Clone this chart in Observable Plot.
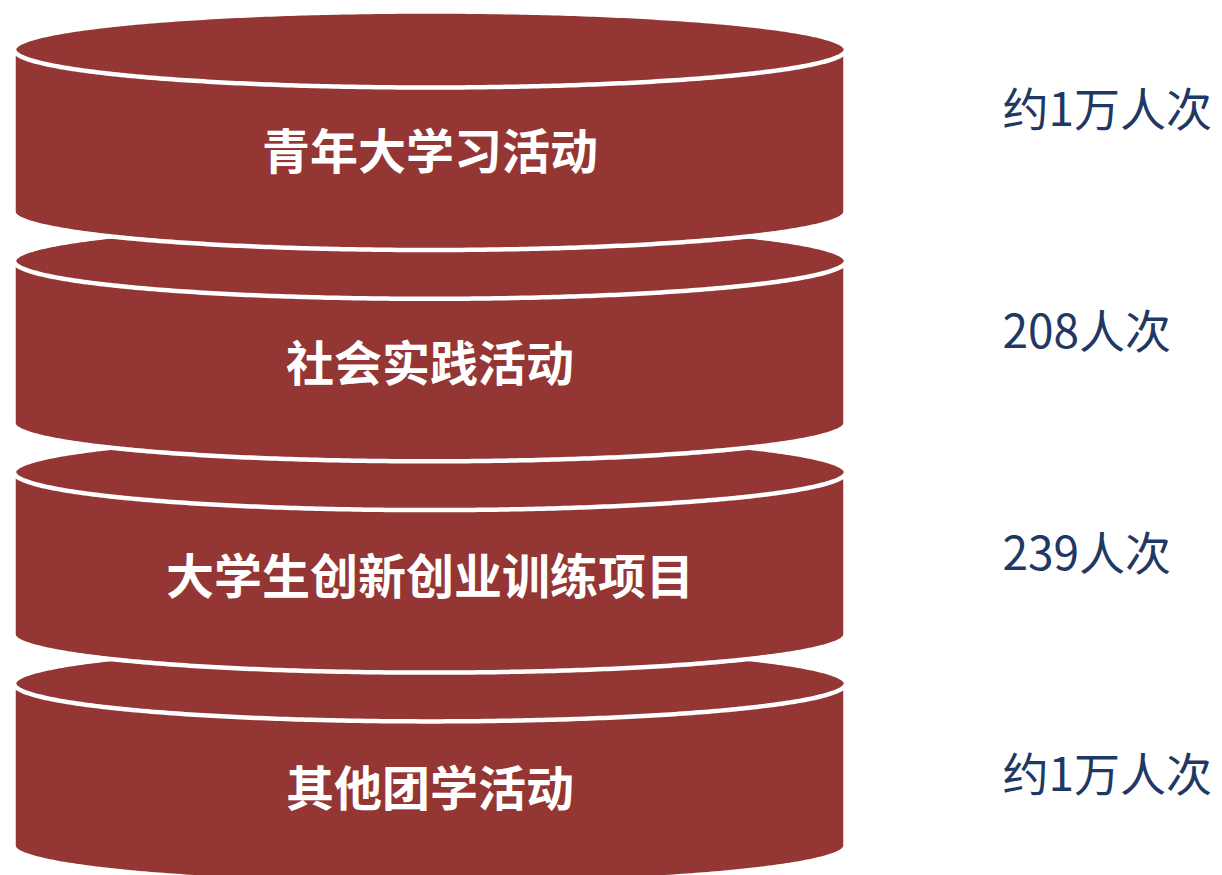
<!DOCTYPE html>
<html>
<head>
<meta charset="utf-8">
<script src="https://cdn.jsdelivr.net/npm/d3@7"></script>
<script src="https://cdn.jsdelivr.net/npm/@observablehq/plot@0.6"></script>
<style>
  html, body { margin: 0; padding: 0; background: #ffffff; }
  #chart svg { display: block; }
</style>
</head>
<body>
<div id="chart"></div>
<script>
// ---- Data ----
const categories = ["青年大学习活动", "社会实践活动", "大学生创新创业训练项目", "其他团学活动"];
const valueLabels = ["约1万人次", "208人次", "239人次", "约1万人次"];

// ---- Layout (styling / geometry constants) ----
const W = 1222, H = 875;
const cx = 429.5, rx = 416, ry = 38;
const firstTop = 49, step = 211.3, bodyH = 163;
const labelOffset = 104;
const labelStep = 212.5;
const valueX = 1002, valueFirstY = 111, valueStep = 221.7;
const red = "#943634", navy = "#1f3864";
const font = "'Noto Sans CJK SC', 'Noto Sans', sans-serif";
const N = 240;

const rows = categories.map((c, i) => ({cat: c, value: valueLabels[i], i, top: firstTop + i * step}));

function bodyPts(r) {
  const pts = [];
  for (let k = 0; k <= N; k++) {
    const t = Math.PI * k / N;
    const x = cx - rx * Math.cos(t);
    const dy = ry * Math.sin(t);
    pts.push({cat: r.cat, x, y1: r.top - dy, y2: r.top + bodyH + dy});
  }
  return pts;
}
function facePts(r) {
  const pts = [];
  for (let k = 0; k <= 2 * N; k++) {
    const t = Math.PI * k / N;
    pts.push({cat: r.cat, x: cx - rx * Math.cos(t), y: r.top - ry * Math.sin(t)});
  }
  return pts;
}

const marks = [];
[...rows].reverse().forEach(r => {
  marks.push(Plot.area(bodyPts(r), {x1: "x", y1: "y1", y2: "y2", fill: red, stroke: "white", strokeWidth: 4.5, curve: "linear"}));
  marks.push(Plot.line(facePts(r), {x: "x", y: "y", fill: red, stroke: "white", strokeWidth: 4.5, curve: "linear"}));
});
marks.push(Plot.text(rows, {
  x: () => cx, y: d => firstTop + labelOffset + d.i * labelStep, text: "cat",
  fill: "white", fontSize: 48, fontWeight: "bold", fontFamily: font,
  textAnchor: "middle", lineAnchor: "middle"
}));
marks.push(Plot.text(rows, {
  x: () => valueX, y: d => valueFirstY + d.i * valueStep, text: "value",
  fill: navy, fontSize: 46, fontWeight: "normal", fontFamily: font,
  textAnchor: "start", lineAnchor: "middle"
}));

const chart = Plot.plot({
  width: W, height: H,
  margin: 0,
  x: {domain: [0, W], range: [0, W], axis: null},
  y: {domain: [0, H], range: [0, H], axis: null},
  style: {background: "white", overflow: "visible"},
  marks
});
document.getElementById("chart").append(chart);
</script>
</body>
</html>
